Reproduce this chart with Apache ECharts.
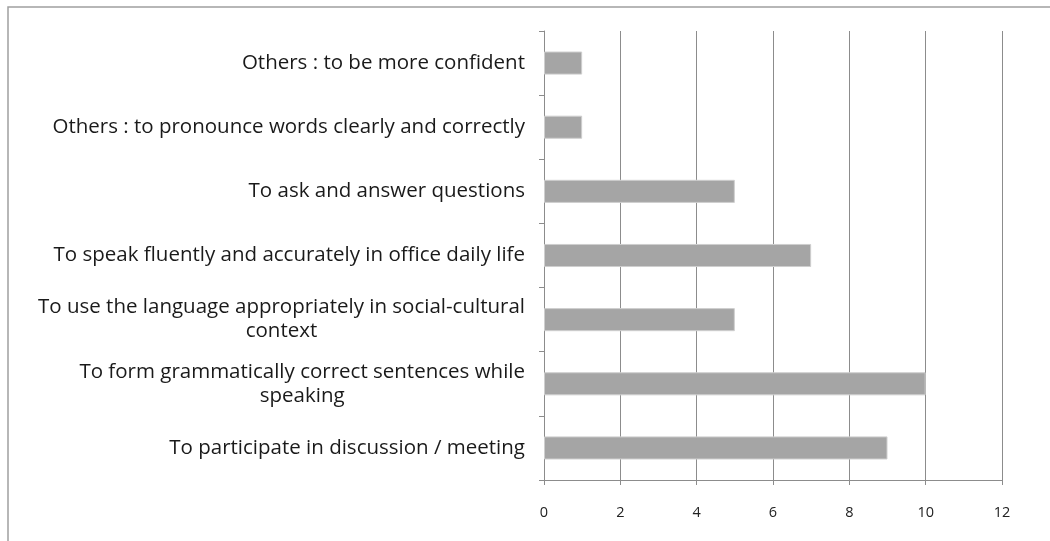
<!DOCTYPE html>
<html>
<head>
<meta charset="utf-8">
<script src="https://cdn.jsdelivr.net/npm/echarts@6/dist/echarts.min.js"></script>
<style>
	html, body { margin: 0; padding: 0; background: #fff; }
	#chart { width: 1050px; height: 541px; }
</style>
</head>
<body>
<div id="chart"></div>
<script>
	// categories listed bottom to top
	var categories = [
		'To participate in discussion / meeting',
		'To form grammatically correct sentences while\nspeaking',
		'To use the language appropriately in social-cultural\ncontext',
		'To speak fluently and accurately in office daily life',
		'To ask and answer questions',
		'Others : to pronounce words clearly and correctly',
		'Others : to be more confident'
	];
	var counts = [9, 10, 5, 7, 5, 1, 1];
	var xTicks = [0, 2, 4, 6, 8, 10, 12];

	var chart = echarts.init(document.getElementById('chart'));
	chart.setOption({
		animation: false,
		textStyle: { fontFamily: 'Open Sans' },
		graphic: [{
			type: 'rect',
			shape: { x: 8, y: 7, width: 1200, height: 700 },
			style: { fill: 'none', stroke: '#a0a0a0', lineWidth: 1.5 }
		}],
		grid: { left: 544, right: 48, top: 31, bottom: 61 },
		xAxis: {
			type: 'value',
			min: xTicks[0],
			max: xTicks[xTicks.length - 1],
			interval: 2,
			axisLine: { show: true, lineStyle: { color: '#8c8c8c' } },
			axisTick: { show: true, length: 5, lineStyle: { color: '#8c8c8c' } },
			splitLine: { show: true, lineStyle: { color: '#8c8c8c' } },
			axisLabel: { margin: 25, fontSize: 14.5, color: '#222', fontFamily: 'Open Sans' }
		},
		yAxis: {
			type: 'category',
			data: categories,
			axisLine: { show: true, lineStyle: { color: '#8c8c8c' } },
			axisTick: { show: true, length: 5, lineStyle: { color: '#8c8c8c' } },
			axisLabel: {
				margin: 19,
				fontSize: 20.5,
				color: '#1a1a1a',
				fontFamily: 'Open Sans',
				lineHeight: 24,
				formatter: function (v) {
					return v.split('\n').map(function (s) { return '{c|' + s + '}'; }).join('\n');
				},
				rich: { c: { align: 'center', fontSize: 20.5, lineHeight: 24, color: '#1a1a1a', fontFamily: 'Open Sans' } }
			}
		},
		series: [{
			type: 'bar',
			data: counts,
			barWidth: '36%',
			itemStyle: { color: '#a5a5a5', borderColor: '#cfcfcf', borderWidth: 1 }
		}]
	});
</script>
</body>
</html>
